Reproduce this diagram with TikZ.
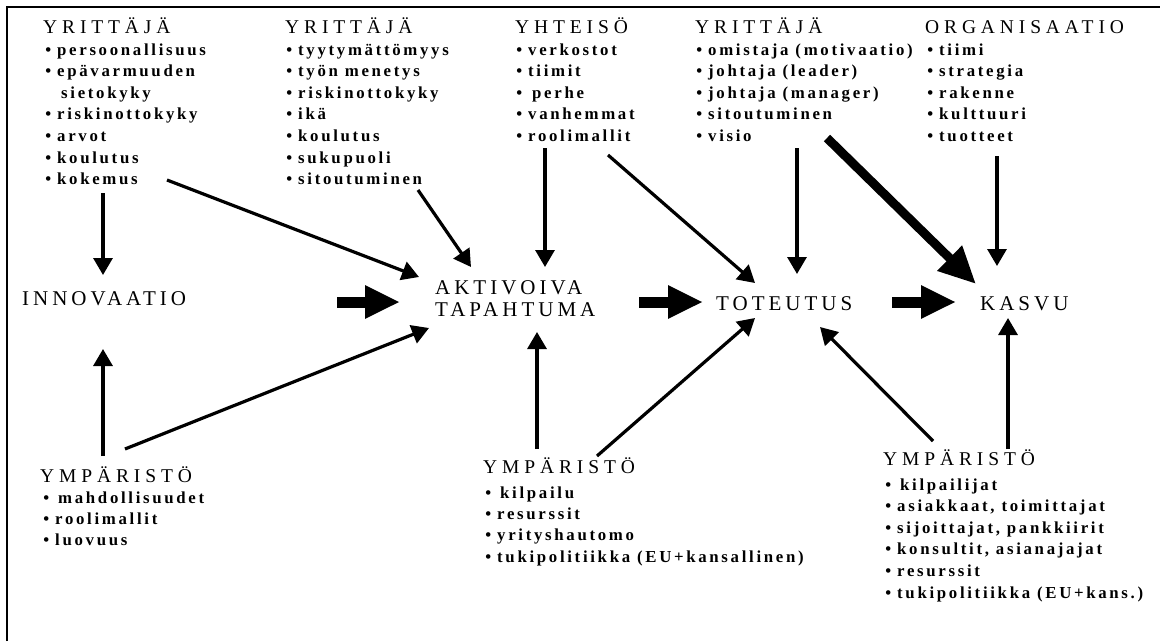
\documentclass[tikz,border=0pt]{standalone}
\usepackage{fontspec}
\setmainfont{Liberation Serif}
\newfontfamily\headff[LetterSpace=25]{Liberation Serif}
\newfontfamily\lblff[LetterSpace=19]{Liberation Serif}
\newfontfamily\itemff[LetterSpace=16]{Liberation Serif}
\usetikzlibrary{arrows.meta}
\newcommand\hfnt{\headff\fontsize{19.5}{22}\selectfont}
\newcommand\ifnt{\itemff\bfseries\fontsize{16.8}{20}\selectfont}
\newcommand\lfnt{\lblff\fontsize{21}{24}\selectfont}
\newcommand\bl[1]{\llap{•\hspace{6pt}}#1}
\begin{document}
\begin{tikzpicture}[x=1pt,y=-1pt,
  head/.style={anchor=base west, inner sep=0pt, font=\hfnt},
  itm/.style={anchor=base west, inner sep=0pt, font=\ifnt},
  lbl/.style={anchor=base west, inner sep=0pt, font=\lfnt},
  arr/.style={line width=3.2pt, -{Triangle[length=17pt,width=19pt]}},
  big/.style={line width=11pt, -{Triangle[length=35pt,width=31pt]}},
  fat/.style={line width=9pt, -{Triangle[length=37pt,width=33pt]}}]
\useasboundingbox (0,0) rectangle (1160,641);
\draw[line width=1.8pt] (7,641) -- (7,7) -- (1160,7);

% block 1
\node[head] (h1) at (43,33) {YRITTÄJÄ};
\foreach \i/\t in {0/persoonallisuus,1/epävarmuuden,3/riskinottokyky,4/arvot,5/koulutus,6/kokemus}
  \node[itm] (a\i) at (57,{55+21.6*\i}) {\bl{\t}};
\node[itm] (a2) at (61,{55+21.6*2}) {sietokyky};
% block 2
\node[head] (h2) at (285,33) {YRITTÄJÄ};
\foreach \t [count=\i from 0] in {tyytymättömyys,työn menetys,riskinottokyky,ikä,koulutus,sukupuoli,sitoutuminen}
  \node[itm] (b\i) at (298,{55+21.6*\i}) {\bl{\t}};
% block 3
\node[head] (h3) at (515,33) {YHTEISÖ};
\foreach \t [count=\i from 0] in {verkostot,tiimit,\hspace{4pt}perhe,vanhemmat,roolimallit}
  \node[itm] (c\i) at (528,{55+21.6*\i}) {\bl{\t}};
% block 4
\node[head] (h4) at (695,33) {YRITTÄJÄ};
\foreach \t [count=\i from 0] in {omistaja (motivaatio),johtaja (leader),johtaja (manager),sitoutuminen,visio}
  \node[itm] (d\i) at (708,{55+21.6*\i}) {\bl{\t}};
% block 5
\node[head] (h5) at (925,33) {ORGANISAATIO};
\foreach \t [count=\i from 0] in {tiimi,strategia,rakenne,kulttuuri,tuotteet}
  \node[itm] (e\i) at (939,{55+21.6*\i}) {\bl{\t}};
% block 6
\node[head] (h6) at (40,482) {YMPÄRISTÖ};
\foreach \t [count=\i from 0] in {\hspace{3pt}mahdollisuudet,roolimallit,luovuus}
  \node[itm] (f\i) at (55,{503+21.2*\i}) {\bl{\t}};
% block 7
\node[head] (h7) at (483,473) {YMPÄRISTÖ};
\foreach \t [count=\i from 0] in {\hspace{3pt}kilpailu,resurssit,yrityshautomo,tukipolitiikka (EU+kansallinen)}
  \node[itm] (g\i) at (497,{498+21.4*\i}) {\bl{\t}};
% block 8
\node[head] (h8) at (883,465) {YMPÄRISTÖ};
\foreach \t [count=\i from 0] in {\hspace{3pt}kilpailijat,{asiakkaat, toimittajat},{sijoittajat, pankkiirit},{konsultit, asianajajat},resurssit,tukipolitiikka (EU+kans.)}
  \node[itm] (k\i) at (897,{490+21.6*\i}) {\bl{\t}};

% middle labels
\node[lbl] (inn) at (22,305) {INNOVAATIO};
\node[lbl] (akt) at (435,294) {AKTIVOIVA};
\node[lbl] (tap) at (435,316) {TAPAHTUMA};
\node[lbl] (tot) at (716,310) {TOTEUTUS};
\node[lbl] (kas) at (980,310) {KASVU};

% arrow end points
\coordinate (s1) at (167,180);  \coordinate (t1) at (419,277);
\coordinate (s2) at (103,193);  \coordinate (t2) at (103,275);
\coordinate (s3) at (103,456);  \coordinate (t3) at (103,349);
\coordinate (s4) at (125,449);  \coordinate (t4) at (429,328);
\coordinate (s5) at (418,190);  \coordinate (t5) at (471,267);
\coordinate (s6) at (545,148);  \coordinate (t6) at (545,267);
\coordinate (s7) at (608,155);  \coordinate (t7) at (755,283);
\coordinate (s8) at (797,148);  \coordinate (t8) at (797,274);
\coordinate (s9) at (827,138);  \coordinate (t9) at (976,284);
\coordinate (s10) at (997,156); \coordinate (t10) at (997,266);
\coordinate (s11) at (537,449); \coordinate (t11) at (537,332);
\coordinate (s12) at (597,456); \coordinate (t12) at (755,318);
\coordinate (s13) at (933,441); \coordinate (t13) at (820,327);
\coordinate (s14) at (1008,449);\coordinate (t14) at (1008,318);
\coordinate (s15) at (337,302); \coordinate (t15) at (400,302);
\coordinate (s16) at (639,302); \coordinate (t16) at (703,302);
\coordinate (s17) at (892,302); \coordinate (t17) at (956,302);

\foreach \k in {1,2,3,4,5,6,7,8,10,11,12,13,14} \draw[arr] (s\k) -- (t\k);
\draw[fat] (s9) -- (t9);
\foreach \k in {15,16,17} \draw[big] (s\k) -- (t\k);
\end{tikzpicture}
\end{document}
